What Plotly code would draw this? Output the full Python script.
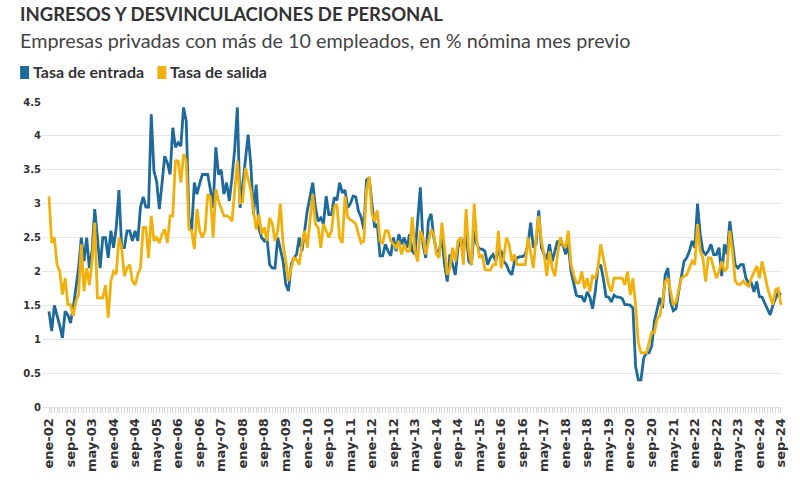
import plotly.graph_objects as go

MONTHS = ["ene", "feb", "mar", "abr", "may", "jun", "jul", "ago", "sep", "oct", "nov", "dic"]
N_MONTHS = 273  # ene-02 .. sep-24
categories = [f"{MONTHS[i % 12]}-{(2 + i // 12):02d}" for i in range(N_MONTHS)]

entrada = [
    1.41, 1.12, 1.5, 1.36, 1.2, 1.02, 1.41, 1.36, 1.24, 1.46, 1.8, 2.05,
    2.5, 2.15, 2.5, 2.05, 2.3, 2.92, 2.5, 2.05, 2.5, 2.5, 2.2, 2.6,
    2.35, 2.65, 3.2, 2.35, 2.35, 2.6, 2.6, 2.45, 2.6, 2.45, 2.95, 3.1,
    2.95, 2.95, 4.32, 3.48, 3.33, 2.92, 3.3, 3.7, 3.6, 3.43, 4.12, 3.83,
    3.9, 3.85, 4.42, 4.22, 2.8, 2.6, 3.31, 3.14, 3.3, 3.43, 3.43, 3.43,
    3.2, 2.94, 3.83, 3.43, 3.5, 3.14, 3.31, 3.04, 3.38, 3.8, 4.42, 2.94,
    3.28, 3.68, 4.02, 3.58, 2.84, 3.28, 2.64, 2.5, 2.45, 2.5, 2.1, 2.05,
    2.05, 2.5, 2.3, 2.15, 1.81, 1.71, 2.1, 2.2, 2.25, 2.5, 2.3, 2.6,
    2.9, 3.1, 3.31, 2.95, 2.74, 2.79, 2.7, 3.11, 2.84, 2.84, 3.09, 3.05,
    3.31, 3.16, 3.2, 2.94, 3.0, 3.11, 3.1, 2.89, 2.8, 2.62, 3.35, 3.38,
    3.0, 2.65, 2.7, 2.23, 2.23, 2.4, 2.3, 2.23, 2.5, 2.3, 2.55, 2.4,
    2.5, 2.35, 2.55, 2.3, 2.25, 2.7, 3.24, 2.4, 2.2, 2.75, 2.85, 2.5,
    2.3, 2.3, 2.5, 2.1, 1.85, 2.25, 2.1, 1.95, 2.35, 2.5, 2.3, 2.6,
    2.15, 2.1, 2.6, 2.4, 2.33, 2.33, 2.3, 2.1, 2.2, 2.25, 2.15, 2.3,
    2.3, 2.15, 2.1, 2.0, 1.95, 2.15, 2.2, 2.22, 2.22, 2.25, 2.4, 2.72,
    2.35, 2.4, 2.9, 2.35, 2.25, 2.18, 2.4, 2.15, 2.3, 2.45, 2.4, 2.4,
    2.25, 2.4, 2.0, 1.8, 1.65, 1.63, 1.63, 1.55, 1.7, 1.62, 1.45, 1.7,
    2.05, 2.1, 1.9, 1.63, 1.62, 1.55, 1.65, 1.62, 1.62, 1.6, 1.51, 1.51,
    1.5, 1.46, 0.6, 0.4, 0.4, 0.72, 0.8, 0.8, 0.9, 1.27, 1.46, 1.61,
    1.46, 1.95, 2.05, 1.55, 1.42, 1.45, 1.7, 1.95, 2.15, 2.2, 2.3, 2.45,
    2.35, 3.0, 2.55, 2.3, 2.25, 2.3, 2.4, 2.25, 2.25, 2.35, 1.93, 2.4,
    2.25, 2.74, 2.45, 2.1, 2.05, 2.1, 2.1, 1.9, 1.83, 1.83, 1.7, 1.85,
    1.63, 1.62, 1.53, 1.45, 1.36, 1.5, 1.6, 1.7, 1.65,
]

salida = [
    3.11, 2.42, 2.5, 2.1, 2.0, 1.66, 1.9, 1.51, 1.51, 1.34, 1.56, 1.66,
    2.4, 1.71, 2.05, 1.8, 2.15, 2.72, 1.61, 1.61, 1.61, 1.8, 1.32, 1.86,
    2.0, 1.96, 2.5, 2.35, 1.93, 2.05, 2.1, 1.86, 1.8, 1.96, 2.05, 2.65,
    2.65, 2.2, 2.82, 2.45, 2.5, 2.42, 2.55, 2.62, 2.42, 2.82, 2.82, 3.63,
    3.63, 3.31, 3.73, 3.63, 2.62, 2.6, 2.33, 2.92, 2.6, 2.5, 2.6, 3.14,
    3.1, 2.5, 3.21, 3.04, 2.94, 2.82, 2.82, 2.8, 2.74, 3.14, 3.63, 3.01,
    3.03, 3.53, 3.35, 3.2, 2.9, 2.62, 2.84, 2.55, 2.65, 2.45, 2.79, 2.7,
    2.45, 2.6, 3.0, 2.4, 2.15, 1.86, 2.05, 2.2, 2.18, 2.1, 2.4, 2.6,
    2.35, 2.74, 3.14, 2.7, 2.65, 2.35, 2.7, 2.6, 2.5, 2.6, 2.95, 2.99,
    2.5, 2.42, 3.11, 2.8, 2.76, 2.74, 2.7, 2.55, 2.42, 2.45, 3.2, 3.4,
    2.85, 2.74, 2.9, 2.45, 2.42, 2.6, 2.6, 2.45, 2.4, 2.35, 2.45, 2.25,
    2.4, 2.3, 2.3, 2.8, 2.3, 2.15, 2.6, 2.5, 2.25, 2.45, 2.62, 2.55,
    2.25, 2.2, 2.72, 2.35, 1.95, 2.05, 2.35, 2.15, 2.45, 2.5, 2.1, 2.92,
    2.3, 2.1, 3.0, 2.45, 2.2, 2.25, 2.03, 2.02, 2.02, 2.1, 2.1, 2.6,
    2.05, 2.2, 2.5, 2.4, 2.15, 2.25, 2.1, 2.1, 2.1, 2.1, 2.5, 2.25,
    2.05, 2.5, 2.82, 2.45, 2.25, 1.93, 2.3, 2.05, 1.93, 2.25, 2.5, 2.4,
    2.35, 2.6, 2.1, 1.95, 1.83, 1.83, 2.0, 1.75, 1.9, 1.7, 1.93, 1.9,
    2.05, 2.4, 2.2, 2.05, 1.8, 1.7, 1.9, 1.9, 1.9, 1.9, 1.8, 2.0,
    1.65, 1.9, 1.5, 0.95, 0.8, 0.8, 0.8, 0.95, 1.1, 1.1, 1.3, 1.35,
    1.55, 1.85, 1.9, 1.7, 1.5, 1.55, 1.75, 1.9, 1.93, 1.95, 2.05, 2.15,
    2.1, 2.7, 2.3, 2.2, 1.85, 2.2, 2.2, 2.05, 1.9, 2.0, 2.15, 2.0,
    2.05, 2.6, 2.3, 1.86, 1.81, 1.81, 1.86, 1.81, 1.78, 1.9, 2.0, 2.08,
    1.9, 2.15, 1.95, 1.76, 1.63, 1.51, 1.73, 1.75, 1.51,
]

y_ticks = [0, 0.5, 1, 1.5, 2, 2.5, 3, 3.5, 4, 4.5]
y_tick_text = ["0", "0.5", "1", "1.5", "2", "2.5", "3", "3.5", "4", "4.5"]

TITLE = "INGRESOS Y DESVINCULACIONES DE PERSONAL"
SUBTITLE = "Empresas privadas con más de 10 empleados, en % nómina mes previo"
SERIES_NAMES = ["Tasa de entrada", "Tasa de salida"]
COLORS = ["#1d6a9b", "#f0b10c"]

W, H = 800, 485
ML, MR, MT, MB = 42, 14, 102, 78
PW, PH = W - ML - MR, H - MT - MB


def px(x):
    return (x - ML) / PW


def py(y):
    return (H - MB - y) / PH


fig = go.Figure()
for name, vals, col in zip(SERIES_NAMES, [entrada, salida], COLORS):
    fig.add_trace(go.Scatter(
        x=categories, y=vals, mode="lines", name=name,
        line=dict(color=col, width=2.8), showlegend=False,
    ))

tick_text = [c if i % 8 == 0 else "" for i, c in enumerate(categories)]

fig.update_layout(
    width=W, height=H,
    margin=dict(l=ML, r=MR, t=MT, b=MB),
    paper_bgcolor="white", plot_bgcolor="white",
    font=dict(family="Lato", color="#333333"),
    xaxis=dict(
        type="category", range=[-2.6, N_MONTHS - 0.6],
        tickmode="array", tickvals=categories, ticktext=tick_text,
        tickangle=-90, ticks="outside", ticklen=5, tickcolor="#d6d6d6",
        tickfont=dict(family="DejaVu Sans", size=13, color="#333333", weight="bold"),
        showgrid=False, showline=True, linecolor="#e3e3e3", linewidth=1,
        zeroline=False, fixedrange=True,
    ),
    yaxis=dict(
        range=[0, 4.5], tickmode="array", tickvals=y_ticks, ticktext=y_tick_text,
        tickfont=dict(family="DejaVu Sans", size=10, color="#333333", weight="bold"),
        showgrid=True, gridcolor="#e6e6e6", gridwidth=1,
        zeroline=False, showline=False, ticks="", fixedrange=True,
    ),
    hovermode=False,
)

annotations = [
    dict(text=f"<b>{TITLE}</b>", x=px(18), y=py(14), xref="paper", yref="paper",
         xanchor="left", yanchor="middle", showarrow=False,
         font=dict(family="Lato", size=18.5, color="#333333")),
    dict(text=SUBTITLE, x=px(18), y=py(40), xref="paper", yref="paper",
         xanchor="left", yanchor="middle", showarrow=False,
         font=dict(family="Lato", size=19.8, color="#444444")),
]
shapes = []
legend_x = [20, 158]
text_x = [34, 172]
for name, col, lx, tx in zip(SERIES_NAMES, COLORS, legend_x, text_x):
    shapes.append(dict(type="rect", xref="paper", yref="paper",
                       x0=px(lx), x1=px(lx + 9), y0=py(79), y1=py(66),
                       fillcolor=col, line=dict(width=0)))
    annotations.append(dict(text=f"<b>{name}</b>", x=px(tx - 3), y=py(72),
                            xref="paper", yref="paper", xanchor="left",
                            yanchor="middle", showarrow=False,
                            font=dict(family="Lato", size=16, color="#333333")))

fig.update_layout(annotations=annotations, shapes=shapes)

fig.write_html(
    "out.html",
    config={"displayModeBar": False},
    post_script="document.body.style.margin='0px';",
)
